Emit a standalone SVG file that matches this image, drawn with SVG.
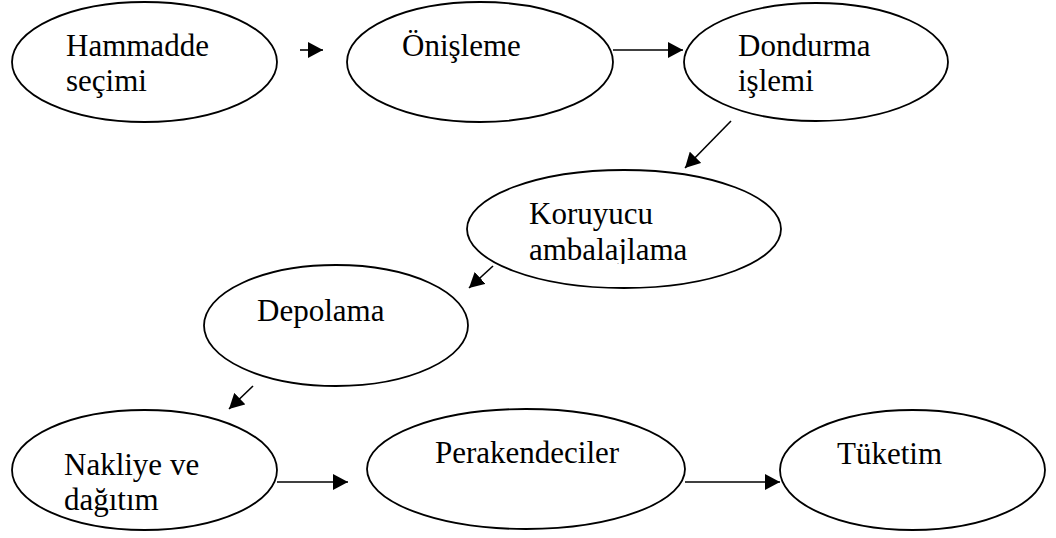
<svg xmlns="http://www.w3.org/2000/svg" width="1056" height="538" viewBox="0 0 1056 538">
<style>
.node ellipse{fill:#fff;stroke:#000;stroke-width:1.8}
.node text{font-family:"Liberation Serif","Times New Roman",serif;font-size:31px;fill:#000}
.edge{stroke:#000;stroke-width:1.6;fill:none}
</style>
<defs>
<marker id="ah" markerUnits="userSpaceOnUse" markerWidth="15" markerHeight="16" refX="15" refY="8" orient="auto">
<path d="M0,0 L15,8 L0,16 z" fill="#000"/>
</marker>
<clipPath id="clipK"><rect x="460" y="160" width="330" height="104"/></clipPath>
</defs>
<rect width="1056" height="538" fill="#fff"/>
<g id="connectors">
<line class="edge" x1="300" y1="50" x2="323" y2="50" marker-end="url(#ah)"/>
<line class="edge" x1="613" y1="50" x2="683" y2="50" marker-end="url(#ah)"/>
<line class="edge" x1="731" y1="121" x2="685" y2="168" marker-end="url(#ah)"/>
<line class="edge" x1="493" y1="266" x2="469" y2="288" marker-end="url(#ah)"/>
<line class="edge" x1="253" y1="386" x2="229" y2="409" marker-end="url(#ah)"/>
<line class="edge" x1="277" y1="482" x2="348" y2="482" marker-end="url(#ah)"/>
<line class="edge" x1="685" y1="482" x2="780" y2="482" marker-end="url(#ah)"/>
</g>
<g id="n1" class="node"><ellipse cx="144.5" cy="62" rx="132.5" ry="60"/><text x="66" y="56">Hammadde</text><text x="66" y="91">seçimi</text></g>
<g id="n2" class="node"><ellipse cx="480" cy="62" rx="133" ry="60"/><text x="402" y="56">Önişleme</text></g>
<g id="n3" class="node"><ellipse cx="816" cy="62" rx="132" ry="59"/><text x="738" y="56">Dondurma</text><text x="738" y="91">işlemi</text></g>
<g id="n4" class="node"><ellipse cx="624" cy="229" rx="157" ry="59"/><g clip-path="url(#clipK)"><text x="529" y="224">Koruyucu</text><text x="529" y="260">ambalajlama</text></g></g>
<g id="n5" class="node"><ellipse cx="336" cy="325.5" rx="132" ry="60.5"/><text x="257" y="321">Depolama</text></g>
<g id="n6" class="node"><ellipse cx="144.5" cy="470" rx="132.5" ry="60"/><text x="64" y="475">Nakliye ve</text><text x="64" y="510">dağıtım</text></g>
<g id="n7" class="node"><ellipse cx="526" cy="469" rx="159" ry="60"/><text x="435" y="463">Perakendeciler</text></g>
<g id="n8" class="node"><ellipse cx="912.5" cy="470" rx="132.5" ry="60"/><text x="837" y="464">Tüketim</text></g>
</svg>
